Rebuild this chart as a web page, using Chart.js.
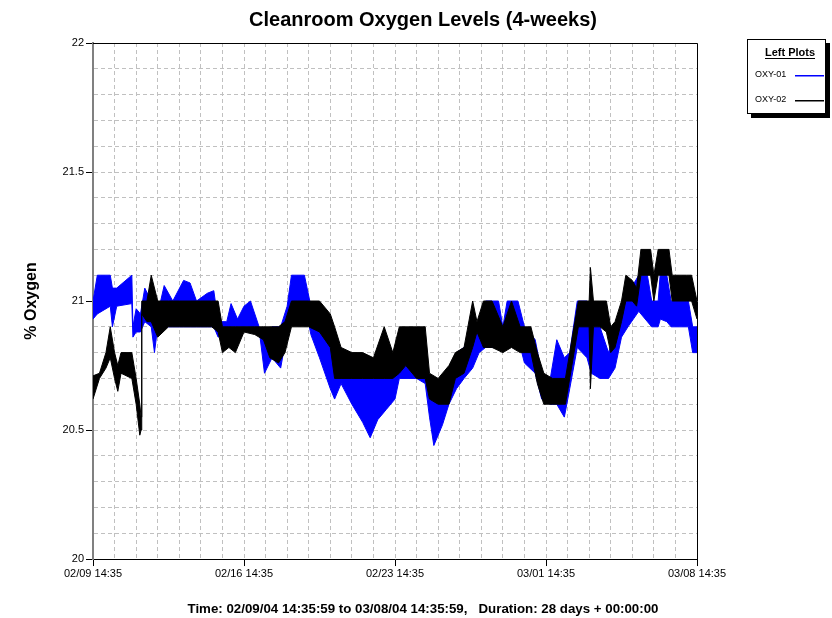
<!DOCTYPE html>
<html>
<head>
<meta charset="utf-8">
<title>Cleanroom Oxygen Levels (4-weeks)</title>
<script src="https://cdn.jsdelivr.net/npm/chart.js@4.4.1/dist/chart.umd.min.js"></script>
<style>
  html, body { margin: 0; padding: 0; background: #fff; }
  canvas { display: block; }
</style>
</head>
<body>
<canvas id="chart" width="832" height="618"></canvas>
<script>
'use strict';

// x values are days since 02/09/04 14:35:59
var xTickLabels = ['02/09 14:35', '02/16 14:35', '02/23 14:35', '03/01 14:35', '03/08 14:35'];
var yTickLabels = ['20', '20.5', '21', '21.5', '22'];
var seriesNames = ['OXY-01', 'OXY-02'];
var seriesColors = ['#0000ff', '#000000'];

// OXY-01 (blue): upper / lower edge of the noisy band
var oxy01Days = [0, 0.2, 0.8, 0.9, 1.1, 1.8, 1.85, 2.0, 2.2, 2.4, 2.7, 2.85, 3.0, 3.3, 3.7, 4.2, 4.5, 4.8, 5.3, 5.6,
    5.8, 6.2, 6.4, 6.7, 7.0, 7.3, 7.7, 7.95, 8.3, 8.7, 9.0, 9.2, 9.8, 10.1, 10.5, 11.0, 11.2, 11.5, 12.0, 12.5,
    12.85, 13.2, 13.6, 14.0, 14.2, 15.0, 15.4, 15.6, 15.8, 16.2, 16.5, 16.85, 17.2, 17.6, 17.9, 18.2, 18.8, 19.0, 19.2, 19.7,
    20.0, 20.5, 20.8, 21.2, 21.5, 21.85, 22.1, 22.45, 22.9, 23.1, 23.5, 23.9, 24.2, 24.5, 24.8, 25.3, 25.7, 25.9, 26.2, 26.3,
    26.6, 26.8, 27.6, 27.8, 28.0];
var oxy01High = [21.0, 21.1, 21.1, 21.05, 21.05, 21.1, 20.9, 20.97, 20.95, 21.05, 21.0, 20.95, 20.95, 21.06, 21.0, 21.08, 21.07, 21.0, 21.03, 21.04,
    20.92, 20.92, 20.99, 20.93, 20.98, 21.0, 20.9, 20.85, 20.9, 20.9, 20.98, 21.1, 21.1, 20.98, 20.9, 20.86, 20.8, 20.8, 20.78, 20.72,
    20.7, 20.7, 20.7, 20.75, 20.8, 20.84, 20.8, 20.7, 20.65, 20.68, 20.72, 20.8, 20.82, 20.88, 20.92, 21.0, 21.0, 20.9, 21.0, 21.0,
    20.9, 20.85, 20.72, 20.7, 20.85, 20.78, 20.8, 21.0, 21.0, 20.9, 20.9, 20.8, 20.88, 20.98, 21.03, 21.1, 21.1, 21.0, 21.0, 21.11,
    21.1, 21.0, 21.0, 20.9, 20.9];
var oxy01Low = [20.93, 20.95, 20.98, 20.9, 20.98, 20.99, 20.86, 20.88, 20.88, 20.92, 20.9, 20.8, 20.9, 20.9, 20.9, 20.9, 20.9, 20.9, 20.9, 20.9,
    20.86, 20.88, 20.9, 20.9, 20.9, 20.9, 20.89, 20.72, 20.78, 20.74, 20.88, 21.0, 21.0, 20.87, 20.78, 20.66, 20.62, 20.68, 20.6, 20.53,
    20.47, 20.54, 20.58, 20.62, 20.7, 20.7, 20.68, 20.55, 20.44, 20.52, 20.6, 20.66, 20.7, 20.74, 20.8, 20.82, 20.82, 20.82, 20.86, 20.86,
    20.76, 20.72, 20.62, 20.6, 20.6, 20.55, 20.66, 20.82, 20.78, 20.72, 20.7, 20.7, 20.74, 20.86, 20.9, 20.96, 20.92, 20.9, 20.9, 20.93,
    20.92, 20.9, 20.9, 20.8, 20.8];

// OXY-02 (black)
var oxy02Days = [0, 0.3, 0.6, 0.8, 1.0, 1.15, 1.3, 1.8, 2.0, 2.17, 2.23, 2.26, 2.5, 2.7, 3.0, 3.5, 4.0, 4.5, 5.0, 5.5,
    5.8, 6.0, 6.3, 6.6, 7.0, 7.5, 7.9, 8.2, 8.6, 8.9, 9.2, 9.5, 10.0, 10.5, 11.0, 11.2, 11.5, 12.0, 12.5, 13.0,
    13.5, 13.9, 14.2, 14.5, 15.0, 15.4, 15.6, 16.0, 16.5, 16.8, 17.2, 17.6, 17.8, 18.1, 18.5, 19.0, 19.4, 19.8, 20.3, 20.6,
    20.9, 21.3, 21.9, 22.2, 22.5, 23.0, 23.06, 23.2, 23.5, 23.8, 24.0, 24.2, 24.5, 24.7, 25.0, 25.2, 25.4, 25.85, 26.0, 26.2,
    26.7, 26.85, 27.5, 27.75, 28.0];
var oxy02High = [20.71, 20.72, 20.8, 20.9, 20.8, 20.75, 20.8, 20.8, 20.7, 20.6, 20.55, 21.0, 21.0, 21.1, 21.0, 21.0, 21.0, 21.0, 21.0, 21.0,
    21.0, 20.9, 20.9, 20.9, 20.9, 20.9, 20.9, 20.9, 20.9, 20.92, 21.0, 21.0, 21.0, 21.0, 20.95, 20.9, 20.82, 20.8, 20.8, 20.78,
    20.9, 20.8, 20.9, 20.9, 20.9, 20.9, 20.72, 20.7, 20.75, 20.8, 20.82, 21.0, 20.92, 21.0, 21.0, 20.9, 21.0, 20.9, 20.9, 20.8,
    20.72, 20.7, 20.7, 20.85, 21.0, 21.0, 21.13, 21.0, 21.0, 21.0, 20.9, 20.92, 21.0, 21.1, 21.08, 21.05, 21.2, 21.2, 21.1, 21.2,
    21.2, 21.1, 21.1, 21.1, 21.0];
var oxy02Low = [20.62, 20.7, 20.74, 20.78, 20.7, 20.65, 20.72, 20.7, 20.6, 20.48, 20.5, 20.95, 20.92, 20.92, 20.86, 20.9, 20.9, 20.9, 20.9, 20.9,
    20.88, 20.8, 20.82, 20.8, 20.88, 20.87, 20.85, 20.78, 20.76, 20.8, 20.9, 20.9, 20.9, 20.88, 20.82, 20.7, 20.7, 20.7, 20.7, 20.7,
    20.7, 20.7, 20.72, 20.75, 20.7, 20.7, 20.62, 20.6, 20.6, 20.7, 20.72, 20.82, 20.88, 20.82, 20.82, 20.8, 20.82, 20.8, 20.8, 20.68,
    20.6, 20.6, 20.6, 20.75, 20.9, 20.9, 20.66, 20.9, 20.9, 20.88, 20.8, 20.82, 20.92, 21.0, 21.0, 20.98, 21.1, 21.1, 21.0, 21.1,
    21.1, 21.0, 21.0, 21.0, 20.93];

var footerText = 'Time: 02/09/04 14:35:59 to 03/08/04 14:35:59,   Duration: 28 days + 00:00:00';
var FONT = '"Liberation Sans", Arial, Helvetica, sans-serif';

function toPoints(days, values) {
    return days.map(function(d, i) { return {x: d, y: values[i]}; });
}

function bandLine(label, color, days, values, fill) {
    return {
        label: label,
        data: toPoints(days, values),
        borderColor: color,
        backgroundColor: color,
        borderWidth: 1,
        pointRadius: 0,
        tension: 0,
        fill: fill
    };
}

function isHalfStep(v) {
    var h = v * 2;
    return Math.abs(h - Math.round(h)) < 1e-6;
}

// top and right edges of the plot frame
var plotFrame = {
    id: 'plotFrame',
    afterDatasetsDraw: function(chart) {
        var a = chart.chartArea;
        var ctx = chart.ctx;
        ctx.save();
        ctx.strokeStyle = '#000';
        ctx.lineWidth = 1;
        ctx.beginPath();
        ctx.moveTo(a.left, Math.round(a.top) + 0.5);
        ctx.lineTo(Math.round(a.right) + 0.5, Math.round(a.top) + 0.5);
        ctx.lineTo(Math.round(a.right) + 0.5, a.bottom);
        ctx.stroke();
        ctx.restore();
    }
};

// the "Left Plots" key box
var leftPlotsKey = {
    id: 'leftPlotsKey',
    afterDraw: function(chart) {
        var ctx = chart.ctx;
        var x = 747, y = 39, w = 79, h = 75;
        ctx.save();
        ctx.fillStyle = '#000';
        ctx.fillRect(x + 4, y + 4, w, h);
        ctx.fillStyle = '#fff';
        ctx.fillRect(x, y, w, h);
        ctx.strokeStyle = '#000';
        ctx.lineWidth = 1;
        ctx.strokeRect(x + 0.5, y + 0.5, w - 1, h - 1);

        ctx.fillStyle = '#000';
        ctx.font = 'bold 11px ' + FONT;
        ctx.textAlign = 'center';
        ctx.textBaseline = 'alphabetic';
        ctx.fillText('Left Plots', 790, 56);
        var tw = ctx.measureText('Left Plots').width;
        ctx.fillRect(Math.round(790 - tw / 2), 58, Math.round(tw), 1);

        ctx.font = '9px ' + FONT;
        ctx.textAlign = 'left';
        ctx.textBaseline = 'middle';
        [75, 100].forEach(function(ly, i) {
            ctx.fillStyle = '#000';
            ctx.fillText(seriesNames[i], 755, ly);
            ctx.fillStyle = seriesColors[i];
            ctx.fillRect(795, ly, 29, 1.5);
        });
        ctx.restore();
    }
};

Chart.defaults.font.family = FONT;
Chart.defaults.color = '#000';

var chart = new Chart(document.getElementById('chart'), {
    type: 'line',
    data: {
        datasets: [
            bandLine(seriesNames[1], seriesColors[1], oxy02Days, oxy02High, false),
            bandLine(seriesNames[1], seriesColors[1], oxy02Days, oxy02Low, '-1'),
            bandLine(seriesNames[0], seriesColors[0], oxy01Days, oxy01High, false),
            bandLine(seriesNames[0], seriesColors[0], oxy01Days, oxy01Low, '-1')
        ]
    },
    options: {
        responsive: false,
        animation: false,
        events: [],
        layout: { padding: { left: 14, right: 0, top: 0, bottom: 0 } },
        plugins: {
            legend: { display: false },
            tooltip: { enabled: false },
            title: {
                display: true,
                text: 'Cleanroom Oxygen Levels (4-weeks)',
                color: '#000',
                font: { size: 20, weight: 'bold' },
                padding: { top: 8, bottom: 11 }
            },
            subtitle: {
                display: true,
                position: 'bottom',
                text: footerText,
                color: '#000',
                font: { size: 13.3, weight: 'bold' },
                padding: { top: 0, bottom: 1 }
            }
        },
        scales: {
            x: {
                type: 'linear',
                min: 0,
                max: 28,
                afterBuildTicks: function(scale) {
                    var t = [];
                    for (var d = 0; d <= 28; d++) t.push({value: d});
                    scale.ticks = t;
                },
                afterFit: function(scale) { scale.height = 42; },
                ticks: {
                    autoSkip: false,
                    maxRotation: 0,
                    padding: 1,
                    color: '#000',
                    font: { size: 11 },
                    callback: function(v) { return v % 7 === 0 ? xTickLabels[v / 7] : ''; }
                },
                grid: {
                    color: '#c0c0c0',
                    lineWidth: 1,
                    tickLength: 7,
                    tickColor: function(c) { return c.tick && c.tick.value % 7 === 0 ? '#000' : 'rgba(0,0,0,0)'; }
                },
                border: { color: '#000', width: 1, dash: [4, 3] }
            },
            y: {
                type: 'linear',
                min: 20,
                max: 22,
                afterBuildTicks: function(scale) {
                    var t = [];
                    for (var i = 0; i <= 20; i++) t.push({value: 20 + i / 10});
                    scale.ticks = t;
                },
                afterFit: function(scale) { scale.width = 79; },
                ticks: {
                    autoSkip: false,
                    padding: 2,
                    color: '#000',
                    font: { size: 11 },
                    callback: function(v) { return isHalfStep(v) ? yTickLabels[Math.round(v * 2) - 40] : ''; }
                },
                grid: {
                    color: '#c0c0c0',
                    lineWidth: 1,
                    tickLength: 7,
                    tickColor: function(c) { return c.tick && isHalfStep(c.tick.value) ? '#000' : 'rgba(0,0,0,0)'; }
                },
                border: { color: '#808080', width: 2, dash: [4, 3] },
                title: {
                    display: true,
                    text: '% Oxygen',
                    color: '#000',
                    font: { size: 16, weight: 'bold' },
                    padding: { top: 8, bottom: 0 }
                }
            },
            keySpace: {
                type: 'linear',
                position: 'right',
                min: 0,
                max: 1,
                ticks: { display: false },
                grid: { display: false, drawTicks: false },
                border: { display: false },
                afterFit: function(scale) { scale.width = 135; }
            }
        }
    },
    plugins: [plotFrame, leftPlotsKey]
});
</script>
</body>
</html>
